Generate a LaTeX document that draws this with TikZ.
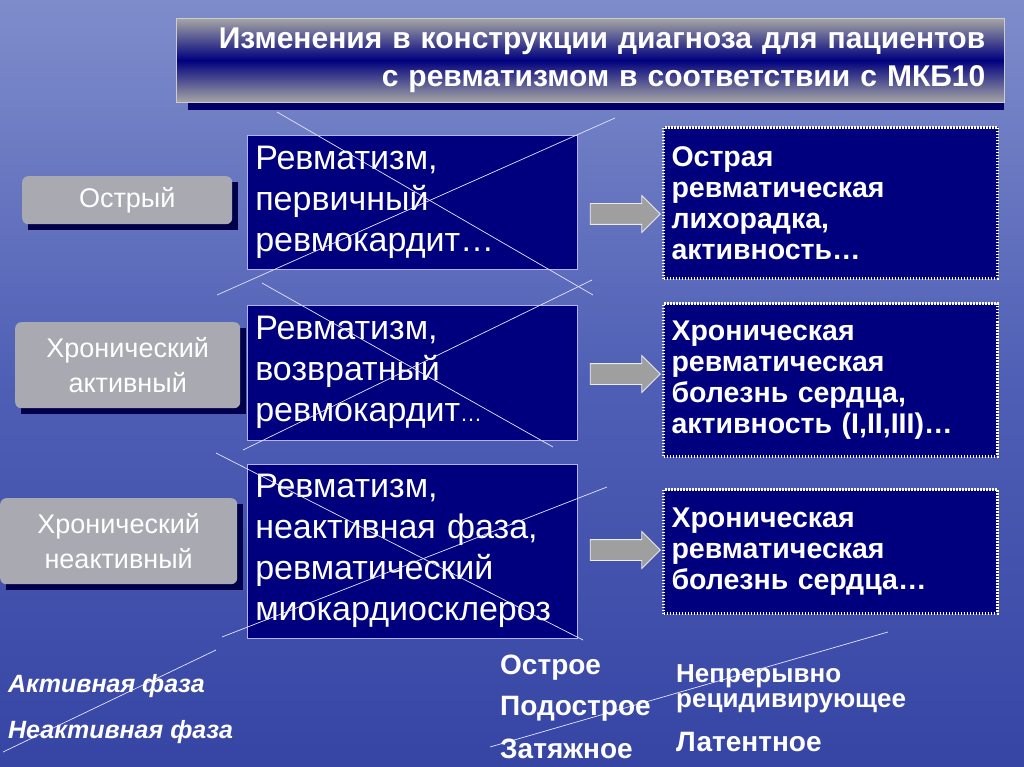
\documentclass[tikz,border=0pt]{standalone}
\usepackage{fontspec}
\setmainfont{Liberation Sans}
\usetikzlibrary{positioning, arrows.meta, shapes.arrows}

\definecolor{navy}{HTML}{00007E}
\definecolor{seatop}{HTML}{7F8CCB}
\definecolor{seamid}{HTML}{4F5FB5}
\definecolor{seabot}{HTML}{3645A4}
\definecolor{pillgrey}{HTML}{A9A9B2}

\begin{document}
\begin{tikzpicture}[
    x=1pt, y=-1pt,
    title/.style = {
        rectangle, draw=white!80!black, top color=gray!70, bottom color=gray!70,
        middle color=navy, minimum width=828pt, minimum height=84pt,
        inner sep=0pt, text=white, font=\bfseries\fontsize{30}{38}\selectfont,
        align=right, anchor=north west, text width=790pt
    },
    pill/.style = {
        rectangle, rounded corners=6pt, fill=pillgrey, text=white,
        font=\fontsize{27}{35}\selectfont, align=center, anchor=north west,
        inner sep=0pt
    },
    oldbox/.style = {
        rectangle, fill=navy, draw=white!70!blue, line width=0.6pt,
        text=white, font=\fontsize{34}{41}\selectfont, align=left,
        minimum width=330pt, anchor=north west, text width=314pt
    },
    newbox/.style = {
        rectangle, fill=navy, draw=white, line width=3pt, dash pattern=on 1.5pt off 1.5pt,
        text=white, font=\bfseries\fontsize{28.5}{31}\selectfont, align=left,
        minimum width=334pt, anchor=north west, text width=318pt
    },
    shiftarrow/.style = {
        single arrow, fill=gray!75, draw=white!85!gray, line width=0.8pt,
        minimum height=70pt, inner xsep=0pt, inner ysep=10pt,
        single arrow head extend=8pt
    },
    cross/.style = {draw=white!90!blue, line width=0.7pt},
    note/.style = {text=white, font=\bfseries\fontsize{28}{30}\selectfont, anchor=west, inner sep=0pt},
]

% sky and sea
\shade[top color=seatop, bottom color=seamid] (0,0) rectangle (1024,380);
\shade[top color=seamid, bottom color=seabot] (0,380) rectangle (1024,767);
\useasboundingbox (0,0) rectangle (1024,767);

% title
\fill[navy!80!black] (188,30) rectangle (1004,110);
\node[title] (head) at (176,18) {Изменения в конструкции диагноза для пациентов\\
    с ревматизмом в соответствии с МКБ10};

% forms of the disease
\fill[navy!60!black] (28,182) rectangle (238,230);
\fill[navy!60!black] (21,328) rectangle (246,414);
\fill[navy!60!black] (6,504) rectangle (243,590);
\node[pill, minimum width=210pt, minimum height=48pt] (acute) at (22,176) {Острый};
\node[pill, minimum width=225pt, minimum height=86pt] (chract) at (15,322) {Хронический\\активный};
\node[pill, minimum width=237pt, minimum height=86pt] (chrinact) at (0,498) {Хронический\\неактивный};

% old diagnoses
\node[oldbox, minimum height=134pt] (old1) at (247,135) {Ревматизм,\\первичный\\ревмокардит\ldots};
\node[oldbox, minimum height=135pt] (old2) at (247,305) {Ревматизм,\\возвратный\\ревмокардит{\fontsize{22}{24}\selectfont\ldots}};
\node[oldbox, minimum height=174pt] (old3) at (247,464) {Ревматизм,\\неактивная фаза,\\ревматический\\миокардиосклероз};

% new diagnoses
\node[newbox, minimum height=151pt] (new1) at (662,126) {Острая\\ревматическая\\лихорадка,\\активность\ldots};
\node[newbox, minimum height=153pt] (new2) at (662,302) {Хроническая\\ревматическая\\болезнь сердца,\\активность (I,II,III)\ldots};
\node[newbox, minimum height=124pt] (new3) at (662,488) {Хроническая\\ревматическая\\болезнь сердца\ldots};

% arrows
\node[shiftarrow] (ar1) at (620,214) {};
\node[shiftarrow] (ar2) at (620,374) {};
\node[shiftarrow] (ar3) at (620,550) {};

% crossings
\coordinate (c1a) at (277,112); \coordinate (c1b) at (593,295);
\coordinate (c1c) at (615,118); \coordinate (c1d) at (217,295);
\coordinate (c2a) at (262,283); \coordinate (c2b) at (553,447);
\coordinate (c2c) at (592,280); \coordinate (c2d) at (243,450);
\coordinate (c3a) at (216,453); \coordinate (c3b) at (583,640);
\coordinate (c3c) at (607,487); \coordinate (c3d) at (222,637);
\coordinate (c4a) at (216,650); \coordinate (c4b) at (3,752);
\coordinate (c5a) at (888,632); \coordinate (c5b) at (490,747);
\draw[cross] (c1a) -- (c1b);
\draw[cross] (c1c) -- (c1d);
\draw[cross] (c2a) -- (c2b);
\draw[cross] (c2c) -- (c2d);
\draw[cross] (c3a) -- (c3b);
\draw[cross] (c3c) -- (c3d);
\draw[cross] (c4a) -- (c4b);
\draw[cross] (c5a) -- (c5b);

% phases and course
\node[note, font=\bfseries\itshape\fontsize{25}{28}\selectfont] (ph1) at (8,686) {Активная фаза};
\node[note, font=\bfseries\itshape\fontsize{25}{28}\selectfont] (ph2) at (8,732) {Неактивная фаза};
\node[note] (co1) at (500,668) {Острое};
\node[note] (co2) at (500,709) {Подострое};
\node[note] (co3) at (500,749) {Затяжное};
\node[note, align=left, font=\bfseries\fontsize{26}{25}\selectfont] (co4) at (676,689) {Непрерывно\\рецидивирующее};
\node[note] (co5) at (676,742) {Латентное};

\end{tikzpicture}
\end{document}
